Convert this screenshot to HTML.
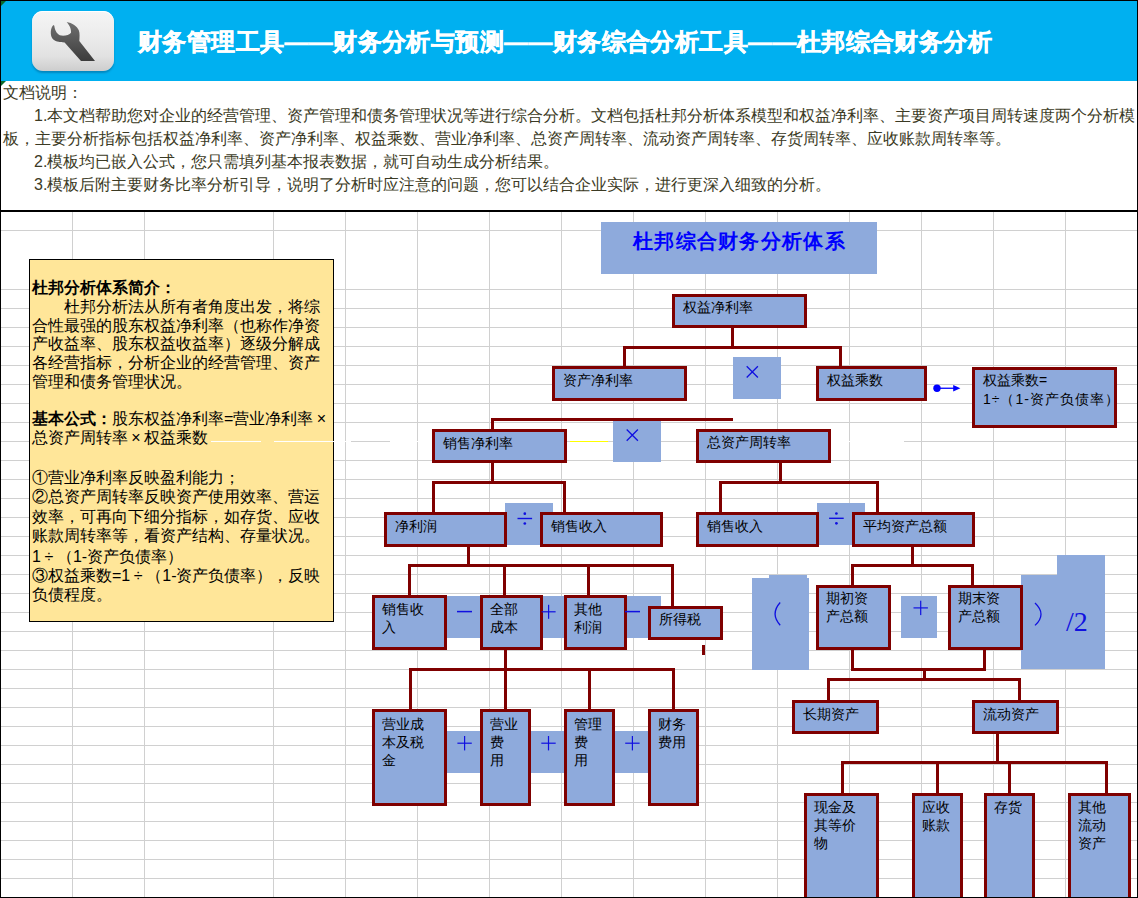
<!DOCTYPE html>
<html><head><meta charset="utf-8"><title>杜邦综合财务分析</title>
<style>
*{margin:0;padding:0;box-sizing:border-box}
html,body{width:1138px;height:898px;overflow:hidden;background:#fff}
body{position:relative;font-family:"Liberation Sans",sans-serif;color:#000}
.abs{position:absolute}
#hdr{position:absolute;left:1px;top:1px;width:1136px;height:80px;background:#00B0F0}
#icon{position:absolute;left:32px;top:11px;width:82px;height:60px;border-radius:11px;
 background:linear-gradient(#f5f5f5 0%,#ececec 40%,#e2e2e2 75%,#cdcdcd 100%);
 box-shadow:0 2px 2px rgba(0,60,100,.35), inset 0 1px 0 #fff}
#title{position:absolute;left:138px;top:26px;font-size:24px;font-weight:bold;-webkit-text-stroke:0.45px #fff;color:#fff;white-space:nowrap;letter-spacing:0.4px}
.dt{position:absolute;font-size:16px;color:#3b3a24;white-space:nowrap;line-height:18px}
#grid{position:absolute;left:0;top:0}
#grid rect{fill:#D0D0D0}
.box{position:absolute;background:#8EAADC;border:3px solid #7F0000}
.bt{position:absolute;font-size:14px;line-height:18px;white-space:nowrap;color:#000}
.op{position:absolute;background:#8EAADC}
.ln{position:absolute;background:#7F0000}
#ybox{position:absolute;left:29px;top:259px;width:305px;height:363px;background:#FFE699;border:1px solid #000}
.yt{position:absolute;font-size:16px;line-height:18px;white-space:nowrap;color:#000}
.fx{display:inline-block;width:16px;text-align:center}
#dtitle{position:absolute;left:601px;top:222px;width:276px;height:52px;background:#8EAADC}
#dtitle span{position:absolute;left:32px;top:6px;font-size:20px;font-weight:bold;color:#0000FF;white-space:nowrap;letter-spacing:1.3px;font-family:"Liberation Serif",serif}
.bd{position:absolute;background:#000}
#two{position:absolute;left:1066px;top:607px;font-size:28px;line-height:30px;color:#1010E0;font-family:"Liberation Serif",serif;white-space:nowrap}
</style></head><body>
<svg id="grid" width="1138" height="898" shape-rendering="crispEdges">
<rect x="72" y="212" width="1" height="686"/>
<rect x="144" y="212" width="1" height="686"/>
<rect x="273" y="212" width="1" height="686"/>
<rect x="345" y="212" width="1" height="686"/>
<rect x="417" y="212" width="1" height="686"/>
<rect x="489" y="212" width="1" height="686"/>
<rect x="561" y="212" width="1" height="686"/>
<rect x="633" y="212" width="1" height="686"/>
<rect x="705" y="212" width="1" height="686"/>
<rect x="777" y="212" width="1" height="686"/>
<rect x="849" y="212" width="1" height="686"/>
<rect x="921" y="212" width="1" height="686"/>
<rect x="993" y="212" width="1" height="686"/>
<rect x="1065" y="212" width="1" height="686"/>
<rect x="1" y="230" width="1136" height="1"/>
<rect x="1" y="289" width="1136" height="1"/>
<rect x="1" y="308" width="1136" height="1"/>
<rect x="1" y="327" width="1136" height="1"/>
<rect x="1" y="346" width="1136" height="1"/>
<rect x="1" y="365" width="1136" height="1"/>
<rect x="1" y="384" width="1136" height="1"/>
<rect x="1" y="403" width="1136" height="1"/>
<rect x="1" y="422" width="1136" height="1"/>
<rect x="1" y="441" width="1136" height="1"/>
<rect x="1" y="460" width="1136" height="1"/>
<rect x="1" y="479" width="1136" height="1"/>
<rect x="1" y="498" width="1136" height="1"/>
<rect x="1" y="517" width="1136" height="1"/>
<rect x="1" y="536" width="1136" height="1"/>
<rect x="1" y="555" width="1136" height="1"/>
<rect x="1" y="574" width="1136" height="1"/>
<rect x="1" y="593" width="1136" height="1"/>
<rect x="1" y="612" width="1136" height="1"/>
<rect x="1" y="631" width="1136" height="1"/>
<rect x="1" y="650" width="1136" height="1"/>
<rect x="1" y="669" width="1136" height="1"/>
<rect x="1" y="688" width="1136" height="1"/>
<rect x="1" y="707" width="1136" height="1"/>
<rect x="1" y="726" width="1136" height="1"/>
<rect x="1" y="745" width="1136" height="1"/>
<rect x="1" y="764" width="1136" height="1"/>
<rect x="1" y="783" width="1136" height="1"/>
<rect x="1" y="802" width="1136" height="1"/>
<rect x="1" y="821" width="1136" height="1"/>
<rect x="1" y="840" width="1136" height="1"/>
<rect x="1" y="859" width="1136" height="1"/>
<rect x="1" y="878" width="1136" height="1"/>
</svg>
<div id="hdr"></div>
<div id="icon">
<svg width="82" height="60" viewBox="0 0 82 60" style="position:absolute;left:0;top:0">
<defs><linearGradient id="wg" x1="0" y1="0" x2="0" y2="1"><stop offset="0" stop-color="#707070"/><stop offset="1" stop-color="#3c3c3c"/></linearGradient></defs>
<path fill="url(#wg)" d="M21.6 14.1 C18.5 16 17.8 24 20.4 27.6 C22.5 30.2 27 31.5 32.6 31.5 L49 50 L63 50 L47.3 30 C47.5 27 48 22 46.8 19.3 C45.5 15.5 40 11.5 34.6 10.9 C37 13.5 39.5 17.5 39 21.7 C37.5 24 33 25 29.2 24.6 C25.5 24 23 20 22.3 14.8 Z"/>
</svg>
</div>
<div id="title">财务管理工具——财务分析与预测——财务综合分析工具——杜邦综合财务分析</div>
<div class="dt" style="left:3px;top:84px">文档说明：</div>
<div class="dt" style="left:34px;top:107px">1.本文档帮助您对企业的经营管理、资产管理和债务管理状况等进行综合分析。文档包括杜邦分析体系模型和权益净利率、主要资产项目周转速度两个分析模</div>
<div class="dt" style="left:3px;top:130px">板，主要分析指标包括权益净利率、资产净利率、权益乘数、营业净利率、总资产周转率、流动资产周转率、存货周转率、应收账款周转率等。</div>
<div class="dt" style="left:34px;top:153px">2.模板均已嵌入公式，您只需填列基本报表数据，就可自动生成分析结果。</div>
<div class="dt" style="left:34px;top:176px">3.模板后附主要财务比率分析引导，说明了分析时应注意的问题，您可以结合企业实际，进行更深入细致的分析。</div>
<div id="ybox"></div>
<div class="yt" style="left:32px;top:279px"><b>杜邦分析体系简介：</b></div>
<div class="yt" style="left:64px;top:298px">杜邦分析法从所有者角度出发，将综</div>
<div class="yt" style="left:32px;top:317px">合性最强的股东权益净利率（也称作净资</div>
<div class="yt" style="left:32px;top:335px">产收益率、股东权益收益率）逐级分解成</div>
<div class="yt" style="left:32px;top:354px">各经营指标，分析企业的经营管理、资产</div>
<div class="yt" style="left:32px;top:373px">管理和债务管理状况。</div>
<div class="yt" style="left:32px;top:410px"><b>基本公式：</b>股东权益净利率=营业净利率<span class="fx">×</span></div>
<div class="yt" style="left:32px;top:429px">总资产周转率<span class="fx">×</span>权益乘数</div>
<div class="yt" style="left:32px;top:469px">①营业净利率反映盈利能力；</div>
<div class="yt" style="left:32px;top:488px">②总资产周转率反映资产使用效率、营运</div>
<div class="yt" style="left:32px;top:508px">效率，可再向下细分指标，如存货、应收</div>
<div class="yt" style="left:32px;top:527px">账款周转率等，看资产结构、存量状况。</div>
<div class="yt" style="left:32px;top:548px">1<span class="fx">÷</span>（1-资产负债率）</div>
<div class="yt" style="left:32px;top:567px">③权益乘数=1<span class="fx">÷</span>（1-资产负债率），反映</div>
<div class="yt" style="left:32px;top:586px">负债程度。</div>
<div class="abs" style="left:211px;top:441px;width:50px;height:1px;background:#fff"></div>
<div class="abs" style="left:274px;top:441px;width:77px;height:1px;background:#fff"></div>
<div class="abs" style="left:390px;top:441px;width:43px;height:1px;background:#fff"></div>
<div class="abs" style="left:831px;top:441px;width:73px;height:1px;background:#fff"></div>
<div class="abs" style="left:570px;top:441px;width:38px;height:1px;background:#FFFF00"></div>
<div id="dtitle"><span>杜邦综合财务分析体系</span></div>
<div class="op" style="left:733px;top:357px;width:48px;height:42px"></div>
<div class="op" style="left:613px;top:421px;width:48px;height:41px"></div>
<div class="op" style="left:505px;top:503px;width:48px;height:42px"></div>
<div class="op" style="left:817px;top:503px;width:48px;height:42px"></div>
<div class="op" style="left:446px;top:596px;width:215px;height:42px"></div>
<div class="op" style="left:446px;top:731px;width:36px;height:42px"></div>
<div class="op" style="left:530px;top:731px;width:36px;height:42px"></div>
<div class="op" style="left:614px;top:731px;width:36px;height:42px"></div>
<div class="op" style="left:901px;top:596px;width:36px;height:42px"></div>
<div class="op" style="left:752px;top:578px;width:57px;height:92px"></div>
<div class="op" style="left:769px;top:575px;width:38px;height:4px"></div>
<div class="op" style="left:1021px;top:575px;width:84px;height:94px"></div>
<div class="op" style="left:1057px;top:555px;width:48px;height:21px"></div>
<div class="ln" style="left:731px;top:327px;width:3px;height:19px"></div>
<div class="ln" style="left:623px;top:346px;width:219px;height:3px"></div>
<div class="ln" style="left:623px;top:346px;width:3px;height:20px"></div>
<div class="ln" style="left:839px;top:346px;width:3px;height:20px"></div>
<div class="ln" style="left:491px;top:418px;width:242px;height:3px"></div>
<div class="ln" style="left:491px;top:418px;width:3px;height:11px"></div>
<div class="ln" style="left:491px;top:462px;width:3px;height:19px"></div>
<div class="ln" style="left:432px;top:481px;width:134px;height:3px"></div>
<div class="ln" style="left:432px;top:481px;width:3px;height:31px"></div>
<div class="ln" style="left:563px;top:481px;width:3px;height:31px"></div>
<div class="ln" style="left:779px;top:462px;width:3px;height:19px"></div>
<div class="ln" style="left:719px;top:481px;width:160px;height:3px"></div>
<div class="ln" style="left:719px;top:481px;width:3px;height:31px"></div>
<div class="ln" style="left:876px;top:481px;width:3px;height:31px"></div>
<div class="ln" style="left:467px;top:546px;width:3px;height:18px"></div>
<div class="ln" style="left:408px;top:564px;width:266px;height:3px"></div>
<div class="ln" style="left:408px;top:564px;width:3px;height:31px"></div>
<div class="ln" style="left:503px;top:564px;width:3px;height:31px"></div>
<div class="ln" style="left:587px;top:564px;width:3px;height:31px"></div>
<div class="ln" style="left:671px;top:564px;width:3px;height:42px"></div>
<div class="ln" style="left:702px;top:645px;width:3px;height:10px"></div>
<div class="ln" style="left:504px;top:649px;width:3px;height:19px"></div>
<div class="ln" style="left:409px;top:668px;width:266px;height:3px"></div>
<div class="ln" style="left:409px;top:668px;width:3px;height:41px"></div>
<div class="ln" style="left:504px;top:668px;width:3px;height:41px"></div>
<div class="ln" style="left:588px;top:668px;width:3px;height:41px"></div>
<div class="ln" style="left:672px;top:668px;width:3px;height:41px"></div>
<div class="ln" style="left:911px;top:546px;width:3px;height:18px"></div>
<div class="ln" style="left:851px;top:564px;width:123px;height:3px"></div>
<div class="ln" style="left:851px;top:564px;width:3px;height:21px"></div>
<div class="ln" style="left:971px;top:564px;width:3px;height:21px"></div>
<div class="ln" style="left:851px;top:649px;width:3px;height:19px"></div>
<div class="ln" style="left:983px;top:649px;width:3px;height:19px"></div>
<div class="ln" style="left:851px;top:668px;width:135px;height:3px"></div>
<div class="ln" style="left:923px;top:668px;width:3px;height:10px"></div>
<div class="ln" style="left:827px;top:678px;width:194px;height:3px"></div>
<div class="ln" style="left:827px;top:678px;width:3px;height:22px"></div>
<div class="ln" style="left:1018px;top:678px;width:3px;height:22px"></div>
<div class="ln" style="left:996px;top:733px;width:3px;height:28px"></div>
<div class="ln" style="left:841px;top:761px;width:267px;height:3px"></div>
<div class="ln" style="left:841px;top:761px;width:3px;height:32px"></div>
<div class="ln" style="left:936px;top:761px;width:3px;height:32px"></div>
<div class="ln" style="left:1008px;top:761px;width:3px;height:32px"></div>
<div class="ln" style="left:1105px;top:761px;width:3px;height:32px"></div>
<div class="box" style="left:672px;top:294px;width:135px;height:34px"><div class="bt" style="left:8px;top:1px">权益净利率</div></div>
<div class="box" style="left:552px;top:366px;width:135px;height:35px"><div class="bt" style="left:8px;top:2px">资产净利率</div></div>
<div class="box" style="left:816px;top:366px;width:111px;height:35px"><div class="bt" style="left:8px;top:2px">权益乘数</div></div>
<div class="box" style="left:972px;top:367px;width:145px;height:61px"><div class="bt" style="left:8px;top:1px;line-height:18.5px">权益乘数=<br><span style="letter-spacing:1px">1÷（1-资产负债率）</span></div></div>
<div class="box" style="left:432px;top:429px;width:135px;height:34px"><div class="bt" style="left:8px;top:2px">销售净利率</div></div>
<div class="box" style="left:696px;top:429px;width:135px;height:34px"><div class="bt" style="left:8px;top:1px">总资产周转率</div></div>
<div class="box" style="left:384px;top:512px;width:123px;height:35px"><div class="bt" style="left:8px;top:2px">净利润</div></div>
<div class="box" style="left:540px;top:512px;width:123px;height:35px"><div class="bt" style="left:8px;top:2px">销售收入</div></div>
<div class="box" style="left:696px;top:512px;width:123px;height:35px"><div class="bt" style="left:8px;top:2px">销售收入</div></div>
<div class="box" style="left:852px;top:512px;width:123px;height:35px"><div class="bt" style="left:8px;top:2px">平均资产总额</div></div>
<div class="box" style="left:372px;top:595px;width:75px;height:55px"><div class="bt" style="left:7px;top:2px">销售收<br>入</div></div>
<div class="box" style="left:480px;top:595px;width:63px;height:55px"><div class="bt" style="left:7px;top:2px">全部<br>成本</div></div>
<div class="box" style="left:564px;top:595px;width:63px;height:55px"><div class="bt" style="left:7px;top:2px">其他<br>利润</div></div>
<div class="box" style="left:648px;top:606px;width:75px;height:34px"><div class="bt" style="left:8px;top:1px">所得税</div></div>
<div class="box" style="left:372px;top:709px;width:75px;height:97px"><div class="bt" style="left:7px;top:3px">营业成<br>本及税<br>金</div></div>
<div class="box" style="left:480px;top:709px;width:51px;height:97px"><div class="bt" style="left:7px;top:3px">营业<br>费<br>用</div></div>
<div class="box" style="left:564px;top:709px;width:51px;height:97px"><div class="bt" style="left:7px;top:3px">管理<br>费<br>用</div></div>
<div class="box" style="left:648px;top:709px;width:51px;height:97px"><div class="bt" style="left:7px;top:3px">财务<br>费用</div></div>
<div class="box" style="left:816px;top:585px;width:75px;height:65px"><div class="bt" style="left:7px;top:1px">期初资<br>产总额</div></div>
<div class="box" style="left:948px;top:585px;width:75px;height:65px"><div class="bt" style="left:7px;top:1px">期末资<br>产总额</div></div>
<div class="box" style="left:792px;top:700px;width:87px;height:34px"><div class="bt" style="left:8px;top:2px">长期资产</div></div>
<div class="box" style="left:972px;top:700px;width:87px;height:34px"><div class="bt" style="left:8px;top:2px">流动资产</div></div>
<div class="box" style="left:804px;top:793px;width:75px;height:113px"><div class="bt" style="left:7px;top:2px">现金及<br>其等价<br>物</div></div>
<div class="box" style="left:912px;top:793px;width:51px;height:113px"><div class="bt" style="left:7px;top:2px">应收<br>账款</div></div>
<div class="box" style="left:984px;top:793px;width:51px;height:113px"><div class="bt" style="left:7px;top:2px">存货</div></div>
<div class="box" style="left:1068px;top:793px;width:63px;height:113px"><div class="bt" style="left:7px;top:2px">其他<br>流动<br>资产</div></div>
<svg class="abs" style="left:0;top:0" width="1138" height="898">
<path d="M746.6999999999999 366.29999999999995L757.9 377.5M746.6999999999999 377.5L757.9 366.29999999999995" stroke="#1010E0" stroke-width="1.3" fill="none"/>
<path d="M626.6999999999999 429.5L637.9 440.70000000000005M626.6999999999999 440.70000000000005L637.9 429.5" stroke="#1010E0" stroke-width="1.3" fill="none"/>
<rect x="517.5" y="517.8" width="14.6" height="1.4" fill="#1010E0"/><circle cx="524.8" cy="513.7" r="1.35" fill="#1010E0"/><circle cx="524.8" cy="523.5" r="1.35" fill="#1010E0"/>
<rect x="829.1" y="517.5999999999999" width="14.6" height="1.4" fill="#1010E0"/><circle cx="836.4" cy="513.5" r="1.35" fill="#1010E0"/><circle cx="836.4" cy="523.3" r="1.35" fill="#1010E0"/>
<rect x="457" y="610.85" width="15" height="1.5" fill="#1010E0"/>
<rect x="541.6" y="611.1999999999999" width="14" height="1.2" fill="#1010E0"/><rect x="548.0" y="604.8" width="1.2" height="14" fill="#1010E0"/>
<rect x="625" y="610.85" width="15" height="1.5" fill="#1010E0"/>
<rect x="457.40000000000003" y="742.6" width="14.4" height="1.2" fill="#1010E0"/><rect x="464.0" y="736.0" width="1.2" height="14.4" fill="#1010E0"/>
<rect x="541.3" y="742.6" width="14.4" height="1.2" fill="#1010E0"/><rect x="547.9" y="736.0" width="1.2" height="14.4" fill="#1010E0"/>
<rect x="625.1999999999999" y="742.6" width="14.4" height="1.2" fill="#1010E0"/><rect x="631.8" y="736.0" width="1.2" height="14.4" fill="#1010E0"/>
<rect x="913.5" y="607.3" width="14.4" height="1.2" fill="#1010E0"/><rect x="920.1" y="600.6999999999999" width="1.2" height="14.4" fill="#1010E0"/>
<path d="M780.2 602.5 Q770 613.8 780.2 625.2" stroke="#1010E0" stroke-width="1.3" fill="none"/>
<path d="M1035 602.9 Q1047 614.1 1035 625.4" stroke="#1010E0" stroke-width="1.3" fill="none"/>
<circle cx="937" cy="388.2" r="3.7" fill="#0000FF"/><rect x="937" y="387.6" width="17" height="1.3" fill="#0000FF"/><path d="M953.2 384.9 L960.4 388.2 L953.2 391.5 Z" fill="#0000FF"/>
</svg>
<div id="two">/2</div>
<div class="bd" style="left:0;top:0;width:1138px;height:1px"></div>
<div class="bd" style="left:0;top:0;width:1px;height:898px"></div>
<div class="bd" style="left:1137px;top:0;width:1px;height:898px"></div>
<div class="bd" style="left:0;top:897px;width:1138px;height:1px"></div>
<div class="bd" style="left:0;top:210px;width:1138px;height:2px"></div>
<svg class="abs" style="left:1px;top:1px" width="6" height="6"><path d="M0 0H5L0 5Z" fill="#0a6a2a"/></svg>
<svg class="abs" style="left:1px;top:81px" width="6" height="6"><path d="M0 0H5L0 5Z" fill="#0a6a2a"/></svg>
</body></html>
